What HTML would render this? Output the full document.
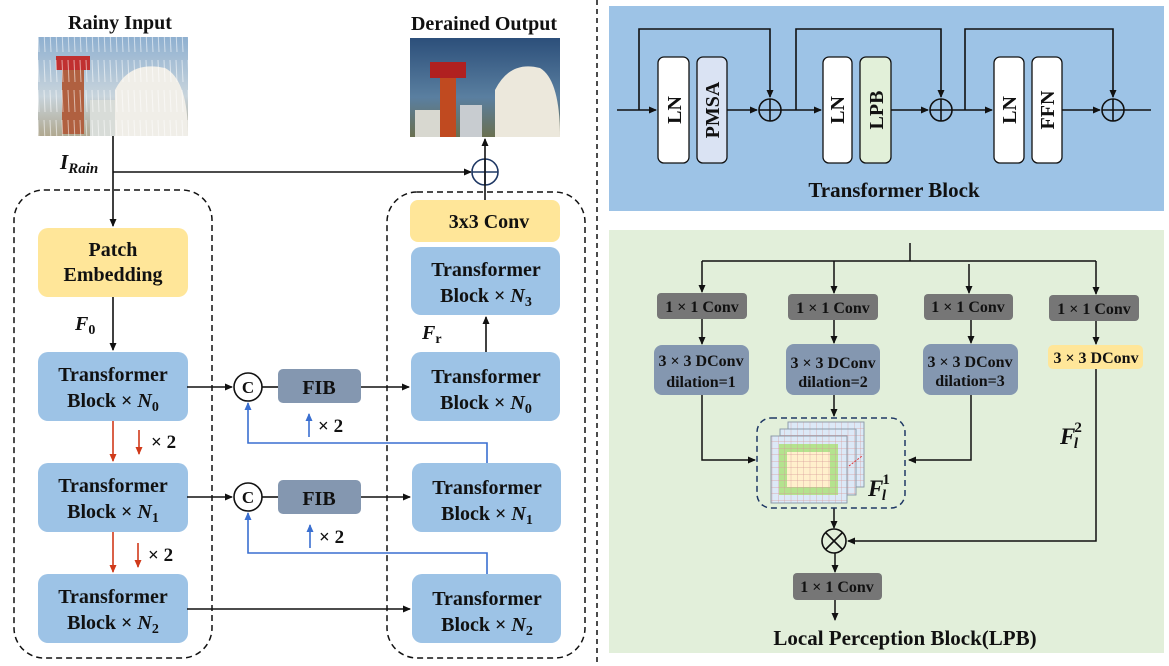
<!DOCTYPE html>
<html><head><meta charset="utf-8"><style>
html,body{margin:0;padding:0;background:#fff;}
svg{display:block;}
text{font-family:"Liberation Serif",serif;font-weight:bold;fill:#111;}
</style></head><body>
<svg width="1169" height="666" viewBox="0 0 1169 666" xmlns="http://www.w3.org/2000/svg">
<defs>
<marker id="a" markerWidth="8" markerHeight="8" refX="7" refY="4" orient="auto" markerUnits="userSpaceOnUse"><path d="M0,0.5 L8,4 L0,7.5z" fill="#111"/></marker>
<marker id="ar" markerWidth="8" markerHeight="8" refX="7" refY="4" orient="auto" markerUnits="userSpaceOnUse"><path d="M0,0.5 L8,4 L0,7.5z" fill="#d03a1a"/></marker>
<marker id="ab" markerWidth="8" markerHeight="8" refX="7" refY="4" orient="auto" markerUnits="userSpaceOnUse"><path d="M0,0.5 L8,4 L0,7.5z" fill="#3a6fd0"/></marker>
<linearGradient id="rain" x1="0" y1="0" x2="0" y2="1"><stop offset="0" stop-color="#8fb0d0"/><stop offset="0.6" stop-color="#c8d4dc"/><stop offset="1" stop-color="#b0a890"/></linearGradient>
<linearGradient id="sky" x1="0" y1="0" x2="0" y2="1"><stop offset="0" stop-color="#2c4f7a"/><stop offset="0.6" stop-color="#5a7fa0"/><stop offset="1" stop-color="#6a7050"/></linearGradient>
<pattern id="streak" width="6" height="30" patternUnits="userSpaceOnUse"><rect width="6" height="30" fill="none"/><line x1="2" y1="0" x2="3" y2="22" stroke="#fff" stroke-opacity="0.55" stroke-width="1"/></pattern>
<pattern id="grid" width="6.33" height="6.5" patternUnits="userSpaceOnUse"><path d="M6.33,0 V6.5 M0,6.5 H6.33" stroke="#d79a9a" stroke-width="0.7" fill="none"/></pattern>
</defs>

<line x1="597" y1="0" x2="597" y2="666" stroke="#111" stroke-width="1.5" stroke-dasharray="5,4"/>

<text x="120" y="29" font-size="20" text-anchor="middle">Rainy Input</text>
<text x="484" y="30" font-size="20" text-anchor="middle">Derained Output</text>

<rect x="38" y="37" width="150" height="99" fill="url(#rain)"/>
<rect x="62" y="60" width="22" height="74" fill="#b06040"/>
<rect x="56" y="56" width="34" height="14" fill="#c03030"/>
<path d="M115,136 L115,90 Q130,60 165,68 Q188,80 188,136z" fill="#f0eee8"/>
<rect x="90" y="100" width="25" height="36" fill="#d8dcd8"/>
<rect x="38" y="37" width="150" height="99" fill="url(#streak)"/>
<rect x="410" y="38" width="150" height="99" fill="url(#sky)"/>
<rect x="440" y="70" width="16" height="67" fill="#c04a20"/>
<rect x="430" y="62" width="36" height="16" fill="#b02020"/>
<rect x="415" y="110" width="25" height="27" fill="#d8d8d0"/>
<rect x="460" y="105" width="22" height="32" fill="#c8ccd0"/>
<path d="M495,137 L495,90 Q510,60 540,68 Q560,80 560,137z" fill="#ece8dc"/>

<line x1="113" y1="136" x2="113" y2="226" stroke="#111" stroke-width="1.6" marker-end="url(#a)"/>
<line x1="113" y1="172" x2="471" y2="172" stroke="#111" stroke-width="1.6" marker-end="url(#a)"/>
<text x="60" y="169" font-size="21" font-style="italic">I<tspan font-size="15" dy="4">Rain</tspan></text>
<circle cx="485" cy="172" r="13" fill="none" stroke="#1f3864" stroke-width="1.6"/>
<line x1="472" y1="172" x2="498" y2="172" stroke="#1f3864" stroke-width="1.6"/>
<line x1="485" y1="159" x2="485" y2="185" stroke="#1f3864" stroke-width="1.6"/>
<line x1="485" y1="200" x2="485" y2="139" stroke="#111" stroke-width="1.6" marker-end="url(#a)"/>

<rect x="14" y="190" width="198" height="468" rx="30" fill="none" stroke="#111" stroke-width="1.5" stroke-dasharray="6,4"/>
<rect x="387" y="192" width="198" height="466" rx="30" fill="none" stroke="#111" stroke-width="1.5" stroke-dasharray="6,4"/>

<rect x="38" y="228" width="150" height="69" rx="10" fill="#ffe699"/>
<text x="113" y="256" font-size="20" text-anchor="middle">Patch</text>
<text x="113" y="281" font-size="20" text-anchor="middle">Embedding</text>
<line x1="113" y1="297" x2="113" y2="350" stroke="#111" stroke-width="1.6" marker-end="url(#a)"/>
<text x="75" y="330" font-size="20" font-style="italic">F<tspan font-size="14" dy="4" font-style="normal">0</tspan></text>

<rect x="38" y="352" width="150" height="69" rx="10" fill="#9dc3e6"/>
<text x="113" y="381" font-size="20" text-anchor="middle">Transformer</text>
<text x="113" y="407" font-size="20" text-anchor="middle">Block × <tspan font-style="italic">N</tspan><tspan font-size="14" dy="4">0</tspan></text>
<rect x="38" y="463" width="150" height="69" rx="10" fill="#9dc3e6"/>
<text x="113" y="492" font-size="20" text-anchor="middle">Transformer</text>
<text x="113" y="518" font-size="20" text-anchor="middle">Block × <tspan font-style="italic">N</tspan><tspan font-size="14" dy="4">1</tspan></text>
<rect x="38" y="574" width="150" height="69" rx="10" fill="#9dc3e6"/>
<text x="113" y="603" font-size="20" text-anchor="middle">Transformer</text>
<text x="113" y="629" font-size="20" text-anchor="middle">Block × <tspan font-style="italic">N</tspan><tspan font-size="14" dy="4">2</tspan></text>
<line x1="113" y1="421" x2="113" y2="461" stroke="#d03a1a" stroke-width="1.6" marker-end="url(#ar)"/>
<line x1="139" y1="430" x2="139" y2="454" stroke="#d03a1a" stroke-width="1.6" marker-end="url(#ar)"/>
<text x="151" y="448" font-size="19" font-family="Liberation Sans">× 2</text>
<line x1="113" y1="532" x2="113" y2="572" stroke="#d03a1a" stroke-width="1.6" marker-end="url(#ar)"/>
<line x1="138" y1="543" x2="138" y2="567" stroke="#d03a1a" stroke-width="1.6" marker-end="url(#ar)"/>
<text x="148" y="561" font-size="19" font-family="Liberation Sans">× 2</text>

<rect x="410" y="200" width="150" height="42" rx="8" fill="#ffe699"/>
<text x="489" y="228" font-size="20" text-anchor="middle">3x3 Conv</text>
<rect x="411" y="247" width="149" height="68" rx="10" fill="#9dc3e6"/>
<text x="486" y="276" font-size="20" text-anchor="middle">Transformer</text>
<text x="486" y="302" font-size="20" text-anchor="middle">Block × <tspan font-style="italic">N</tspan><tspan font-size="14" dy="4">3</tspan></text>
<line x1="486" y1="352" x2="486" y2="317" stroke="#111" stroke-width="1.6" marker-end="url(#a)"/>
<text x="422" y="339" font-size="20" font-style="italic">F<tspan font-size="14" dy="4" font-style="normal">r</tspan></text>
<rect x="411" y="352" width="149" height="69" rx="10" fill="#9dc3e6"/>
<text x="486" y="383" font-size="20" text-anchor="middle">Transformer</text>
<text x="486" y="409" font-size="20" text-anchor="middle">Block × <tspan font-style="italic">N</tspan><tspan font-size="14" dy="4">0</tspan></text>
<rect x="412" y="463" width="149" height="69" rx="10" fill="#9dc3e6"/>
<text x="487" y="494" font-size="20" text-anchor="middle">Transformer</text>
<text x="487" y="520" font-size="20" text-anchor="middle">Block × <tspan font-style="italic">N</tspan><tspan font-size="14" dy="4">1</tspan></text>
<rect x="412" y="574" width="149" height="69" rx="10" fill="#9dc3e6"/>
<text x="487" y="605" font-size="20" text-anchor="middle">Transformer</text>
<text x="487" y="631" font-size="20" text-anchor="middle">Block × <tspan font-style="italic">N</tspan><tspan font-size="14" dy="4">2</tspan></text>

<line x1="187" y1="387" x2="232" y2="387" stroke="#111" stroke-width="1.6" marker-end="url(#a)"/>
<circle cx="248" cy="387" r="14" fill="#fff" stroke="#111" stroke-width="1.6"/>
<text x="248" y="393" font-size="17" text-anchor="middle" font-family="Liberation Sans">C</text>
<line x1="262" y1="387" x2="278" y2="387" stroke="#111" stroke-width="1.6"/>
<rect x="278" y="369" width="83" height="34" rx="5" fill="#8497b0"/>
<text x="319" y="394" font-size="20" text-anchor="middle">FIB</text>
<line x1="361" y1="387" x2="409" y2="387" stroke="#111" stroke-width="1.6" marker-end="url(#a)"/>
<line x1="309" y1="437" x2="309" y2="414" stroke="#3a6fd0" stroke-width="1.6" marker-end="url(#ab)"/>
<text x="318" y="432" font-size="19" font-family="Liberation Sans">× 2</text>
<polyline points="487,463 487,443 248,443 248,403" fill="none" stroke="#3a6fd0" stroke-width="1.6" marker-end="url(#ab)"/>

<line x1="187" y1="497" x2="232" y2="497" stroke="#111" stroke-width="1.6" marker-end="url(#a)"/>
<circle cx="248" cy="497" r="14" fill="#fff" stroke="#111" stroke-width="1.6"/>
<text x="248" y="503" font-size="17" text-anchor="middle" font-family="Liberation Sans">C</text>
<line x1="262" y1="497" x2="278" y2="497" stroke="#111" stroke-width="1.6"/>
<rect x="278" y="480" width="83" height="34" rx="5" fill="#8497b0"/>
<text x="319" y="505" font-size="20" text-anchor="middle">FIB</text>
<line x1="361" y1="497" x2="410" y2="497" stroke="#111" stroke-width="1.6" marker-end="url(#a)"/>
<line x1="310" y1="548" x2="310" y2="525" stroke="#3a6fd0" stroke-width="1.6" marker-end="url(#ab)"/>
<text x="319" y="543" font-size="19" font-family="Liberation Sans">× 2</text>
<polyline points="487,574 487,553 248,553 248,513" fill="none" stroke="#3a6fd0" stroke-width="1.6" marker-end="url(#ab)"/>
<line x1="187" y1="609" x2="410" y2="609" stroke="#111" stroke-width="1.6" marker-end="url(#a)"/>

<rect x="609" y="6" width="555" height="205" fill="#9dc3e6"/>
<g stroke="#111" stroke-width="1.6" fill="none">
<line x1="617" y1="110" x2="656" y2="110" marker-end="url(#a)"/>
<polyline points="639,110 639,29 770,29 770,97" marker-end="url(#a)"/>
<line x1="727" y1="110" x2="757" y2="110" marker-end="url(#a)"/>
<line x1="781" y1="110" x2="821" y2="110" marker-end="url(#a)"/>
<polyline points="796,110 796,29 941,29 941,97" marker-end="url(#a)"/>
<line x1="891" y1="110" x2="928" y2="110" marker-end="url(#a)"/>
<line x1="952" y1="110" x2="992" y2="110" marker-end="url(#a)"/>
<polyline points="965,110 965,29 1113,29 1113,97" marker-end="url(#a)"/>
<line x1="1062" y1="110" x2="1100" y2="110" marker-end="url(#a)"/>
<line x1="1124" y1="110" x2="1151" y2="110"/>
</g>
<g stroke="#111" stroke-width="1.6">
<circle cx="770" cy="110" r="11" fill="none"/><line x1="759" y1="110" x2="781" y2="110"/><line x1="770" y1="99" x2="770" y2="121"/>
<circle cx="941" cy="110" r="11" fill="none"/><line x1="930" y1="110" x2="952" y2="110"/><line x1="941" y1="99" x2="941" y2="121"/>
<circle cx="1113" cy="110" r="11" fill="none"/><line x1="1102" y1="110" x2="1124" y2="110"/><line x1="1113" y1="99" x2="1113" y2="121"/>
</g>
<g stroke="#111" stroke-width="1.3">
<rect x="658" y="57" width="31" height="106" rx="6" fill="#fff"/>
<rect x="697" y="57" width="30" height="106" rx="6" fill="#dae3f3"/>
<rect x="823" y="57" width="29" height="106" rx="6" fill="#fff"/>
<rect x="860" y="57" width="31" height="106" rx="6" fill="#e2f0d9"/>
<rect x="994" y="57" width="30" height="106" rx="6" fill="#fff"/>
<rect x="1032" y="57" width="30" height="106" rx="6" fill="#fff"/>
</g>
<g font-size="20">
<text transform="translate(681,110) rotate(-90)" text-anchor="middle">LN</text>
<text transform="translate(719,110) rotate(-90)" text-anchor="middle">PMSA</text>
<text transform="translate(844,110) rotate(-90)" text-anchor="middle">LN</text>
<text transform="translate(883,110) rotate(-90)" text-anchor="middle">LPB</text>
<text transform="translate(1016,110) rotate(-90)" text-anchor="middle">LN</text>
<text transform="translate(1054,110) rotate(-90)" text-anchor="middle">FFN</text>
</g>
<text x="894" y="197" font-size="21" text-anchor="middle">Transformer Block</text>

<rect x="609" y="230" width="555" height="423" fill="#e2efda"/>
<g stroke="#111" stroke-width="1.5" fill="none">
<line x1="910" y1="243" x2="910" y2="261"/>
<line x1="702" y1="261" x2="1096" y2="261"/>
<line x1="702" y1="261" x2="702" y2="292" marker-end="url(#a)"/>
<line x1="834" y1="261" x2="834" y2="293" marker-end="url(#a)"/>
<line x1="969" y1="264" x2="969" y2="293" marker-end="url(#a)"/>
<line x1="1096" y1="261" x2="1096" y2="294" marker-end="url(#a)"/>
<line x1="702" y1="319" x2="702" y2="344" marker-end="url(#a)"/>
<line x1="834" y1="320" x2="834" y2="343" marker-end="url(#a)"/>
<line x1="971" y1="320" x2="971" y2="343" marker-end="url(#a)"/>
<line x1="1096" y1="321" x2="1096" y2="344" marker-end="url(#a)"/>
<polyline points="702,395 702,460 755,460" marker-end="url(#a)"/>
<polyline points="971,395 971,460 909,460" marker-end="url(#a)"/>
<line x1="834" y1="395" x2="834" y2="416" marker-end="url(#a)"/>
<line x1="834" y1="508" x2="834" y2="528" marker-end="url(#a)"/>
<polyline points="1096,369 1096,541 848,541" marker-end="url(#a)"/>
<line x1="835" y1="553" x2="835" y2="572" marker-end="url(#a)"/>
<line x1="835" y1="600" x2="835" y2="620" marker-end="url(#a)"/>
</g>
<g font-size="16">
<rect x="657" y="293" width="90" height="26" rx="4" fill="#767676"/>
<text x="702" y="312" text-anchor="middle">1 × 1 Conv</text>
<rect x="788" y="294" width="90" height="26" rx="4" fill="#767676"/>
<text x="833" y="313" text-anchor="middle">1 × 1 Conv</text>
<rect x="924" y="294" width="89" height="26" rx="4" fill="#767676"/>
<text x="968" y="312" text-anchor="middle">1 × 1 Conv</text>
<rect x="1049" y="295" width="90" height="26" rx="4" fill="#767676"/>
<text x="1094" y="314" text-anchor="middle">1 × 1 Conv</text>
<rect x="654" y="345" width="95" height="50" rx="8" fill="#8497b0"/>
<text x="701" y="366" text-anchor="middle">3 × 3 DConv</text>
<text x="701" y="387" text-anchor="middle">dilation=1</text>
<rect x="786" y="344" width="94" height="51" rx="8" fill="#8497b0"/>
<text x="833" y="368" text-anchor="middle">3 × 3 DConv</text>
<text x="833" y="387" text-anchor="middle">dilation=2</text>
<rect x="923" y="344" width="95" height="51" rx="8" fill="#8497b0"/>
<text x="970" y="367" text-anchor="middle">3 × 3 DConv</text>
<text x="970" y="386" text-anchor="middle">dilation=3</text>
<rect x="1048" y="345" width="95" height="24" rx="5" fill="#ffe699"/>
<text x="1096" y="363" text-anchor="middle">3 × 3 DConv</text>
<rect x="793" y="573" width="89" height="27" rx="4" fill="#767676"/>
<text x="837" y="592" text-anchor="middle">1 × 1 Conv</text>
</g>
<rect x="757" y="418" width="148" height="90" rx="14" fill="none" stroke="#1f3864" stroke-width="1.5" stroke-dasharray="6,4"/>
<g stroke="#8a9aa8" stroke-width="0.8">
<rect x="788" y="422" width="76" height="65" fill="#dce9f7"/><rect x="788" y="422" width="76" height="65" fill="url(#grid)"/>
<rect x="780" y="429" width="76" height="66" fill="#dce9f7"/><rect x="780" y="429" width="76" height="66" fill="url(#grid)"/>
<rect x="771" y="436" width="76" height="67" fill="#dce9f7"/>
</g>
<rect x="779" y="444" width="59" height="51" fill="#b4e38e"/>
<rect x="787" y="452" width="43" height="35" fill="#fff0cc"/>
<rect x="771" y="436" width="76" height="67" fill="url(#grid)" stroke="#8a9aa8" stroke-width="0.8"/>
<line x1="849" y1="466" x2="862" y2="456" stroke="#e03030" stroke-width="1" stroke-dasharray="2,1.5"/>
<text x="868" y="496" font-size="23" font-style="italic">F<tspan font-size="15" dy="-12" dx="-1" font-style="normal">1</tspan><tspan font-size="15" dy="16" dx="-8">l</tspan></text>
<text x="1060" y="444" font-size="23" font-style="italic">F<tspan font-size="15" dy="-12" dx="-1" font-style="normal">2</tspan><tspan font-size="15" dy="16" dx="-8">l</tspan></text>
<circle cx="834" cy="541" r="12" fill="none" stroke="#111" stroke-width="1.6"/>
<line x1="826" y1="533" x2="842" y2="549" stroke="#111" stroke-width="1.6"/>
<line x1="842" y1="533" x2="826" y2="549" stroke="#111" stroke-width="1.6"/>
<text x="905" y="645" font-size="21" text-anchor="middle">Local Perception Block(LPB)</text>
</svg>
</body></html>
